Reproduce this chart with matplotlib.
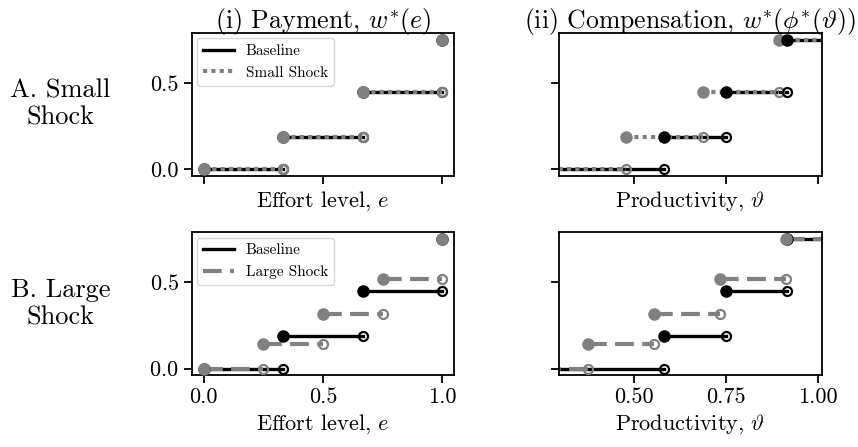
import numpy as np
import matplotlib
matplotlib.use("Agg")
import matplotlib.pyplot as plt

plt.rcParams['font.family'] = 'serif'
plt.rcParams['font.serif'] = ['cmr10']
plt.rcParams['mathtext.fontset'] = 'cm'
plt.rcParams['axes.formatter.use_mathtext'] = True
plt.rcParams['font.size'] = 16

# payment schedules over effort (left column)
effort_base = [0.0, 1 / 3, 2 / 3, 1.0]
pay_base = [0.0, 0.19, 0.445, 0.75]
effort_small = [0.0, 1 / 3, 2 / 3, 1.0]
pay_small = [0.0, 0.19, 0.445, 0.75]
effort_large = [0.0, 0.25, 0.5, 0.75, 1.0]
pay_large = [0.0, 0.14, 0.315, 0.515, 0.75]

# compensation over productivity (right column): cut-offs where pay jumps
theta_lo, theta_hi = 0.25, 1.05
cut_base = [0.583, 0.75, 0.917]
cut_small = [0.479, 0.687, 0.896]
cut_large = [0.374, 0.554, 0.733, 0.913]

GRAY = '#808080'


def steps_effort(ax, e, w, color, ls, lw, z):
    # segments [e_i, e_{i+1}) at w_i, then lone point at the top
    for i in range(len(e) - 1):
        ax.plot([e[i], e[i + 1]], [w[i], w[i]], color=color, lw=lw, zorder=z, **ls)
        ax.plot(e[i], w[i], 'o', color=color, ms=8, zorder=z + 1)
        ax.plot(e[i + 1], w[i], 'o', mfc='none', mec=color, mew=1.6, ms=6.5, zorder=z + 1)
    ax.plot(e[-1], w[-1], 'o', color=color, ms=8, zorder=z + 1)


def steps_theta(ax, cuts, w, color, ls, lw, z, zm):
    edges = [theta_lo] + list(cuts) + [theta_hi]
    for i in range(len(w)):
        ax.plot([edges[i], edges[i + 1]], [w[i], w[i]], color=color, lw=lw, zorder=z, **ls)
        if i > 0:
            ax.plot(edges[i], w[i], 'o', color=color, ms=8, zorder=zm)
        if i < len(w) - 1:
            ax.plot(edges[i + 1], w[i], 'o', mfc='none', mec=color, mew=1.6, ms=6.5, zorder=zm)


solid = dict(ls='-')
dotted = dict(ls=(0, (1, 1)))
dashed = dict(ls=(0, (4.5, 2)))

fig, axes = plt.subplots(2, 2, figsize=(8.58, 4.47), dpi=100, sharey='row')
fig.subplots_adjust(left=0.2233, right=0.9577, top=0.926, bottom=0.161,
                    wspace=0.398, hspace=0.394)

# row A: small shock
ax = axes[0, 0]
steps_effort(ax, effort_base, pay_base, 'black', solid, 2.4, 2)
steps_effort(ax, effort_small, pay_small, GRAY, dotted, 3.0, 2.5)
ax = axes[0, 1]
steps_theta(ax, cut_base, pay_base, 'black', solid, 2.4, 2, 3.5)
steps_theta(ax, cut_small, pay_small, GRAY, dotted, 3.0, 2.5, 3)

# row B: large shock
ax = axes[1, 0]
steps_effort(ax, effort_base, pay_base, 'black', solid, 2.4, 2)
steps_effort(ax, effort_large, pay_large, GRAY, dashed, 3.0, 2.5)
ax = axes[1, 1]
steps_theta(ax, cut_base, pay_base, 'black', solid, 2.4, 2, 3)
steps_theta(ax, cut_large, pay_large, GRAY, dashed, 3.0, 2.5, 3.5)

for r, name in enumerate(['Small Shock', 'Large Shock']):
    ax = axes[r, 0]
    h1, = ax.plot([], [], color='black', lw=2.4)
    h2, = ax.plot([], [], color=GRAY, lw=3.0, **(dotted if r == 0 else dashed))
    ax.legend([h1, h2], ['Baseline', name], loc='upper left', fontsize=11,
              borderaxespad=0.35)

for r in range(2):
    axes[r, 0].set_xlim(-0.05, 1.05)
    axes[r, 0].set_xticks([0.0, 0.5, 1.0])
    axes[r, 1].set_xlim(0.296, 1.011)
    axes[r, 1].set_xticks([0.5, 0.75, 1.0])
    axes[r, 0].set_ylim(-0.0375, 0.7875)
    axes[r, 0].set_yticks([0.0, 0.5])
    axes[r, 0].set_xlabel(r'Effort level, $e$')
    axes[r, 1].set_xlabel(r'Productivity, $\vartheta$')
for ax in axes[0]:
    ax.tick_params(labelbottom=False)
axes[1, 0].xaxis.set_major_formatter(plt.FormatStrFormatter('%.1f'))
axes[1, 1].xaxis.set_major_formatter(plt.FormatStrFormatter('%.2f'))
axes[0, 0].yaxis.set_major_formatter(plt.FormatStrFormatter('%.1f'))

for ax in axes.flat:
    for s in ax.spines.values():
        s.set_linewidth(1.3)
    ax.tick_params(length=5.6, width=1.3)

axes[0, 0].set_title(r'(i) Payment, $w^{*}(e)$', fontsize=18.7, pad=4)
axes[0, 1].set_title(r'(ii) Compensation, $w^{*}(\phi^{*}(\vartheta))$', fontsize=18.5, pad=4)

fig.text(0.0705, 0.767, 'A. Small\nShock', ha='center', va='center', fontsize=19)
fig.text(0.0705, 0.321, 'B. Large\nShock', ha='center', va='center', fontsize=19)

fig.savefig('out.png', dpi=100)
